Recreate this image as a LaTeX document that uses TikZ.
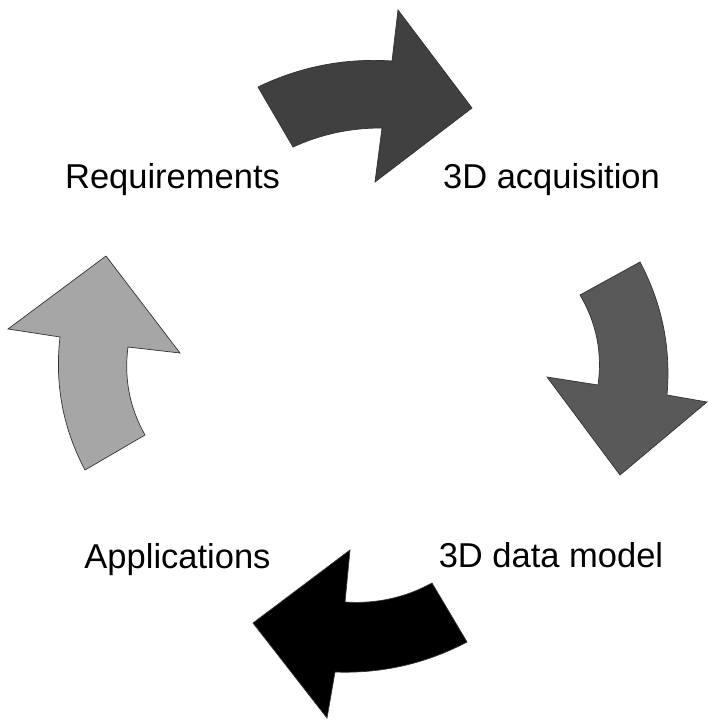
\documentclass[tikz,border=0pt]{standalone}
\usepackage{fontspec}
\setmainfont{Liberation Sans}
\usepackage{tikz}
\usetikzlibrary{calc}
\usepackage{xcolor}

\definecolor{darkstep}{HTML}{404040}
\definecolor{midstep}{HTML}{595959}
\definecolor{lightstep}{HTML}{A6A6A6}

\tikzset{
	steplabel/.style={anchor=base, inner sep=0pt, font=\fontsize{34.5}{40}\selectfont},
	cyclearrow/.style={draw=black!80, line width=0.7pt, line join=miter}
}

\begin{document}
\begin{tikzpicture}[x=1pt, y=-1pt]
	\useasboundingbox (0,0) rectangle (708,720);
	\coordinate (req) at (172.5,188);
	\coordinate (acq) at (551.5,188);
	\coordinate (mod) at (551,567);
	\coordinate (app) at (177.5,568);
	\path (req) node [steplabel] (reqtext) {Requirements};
	\path (acq) node [steplabel] (acqtext) {3D acquisition};
	\path (mod) node [steplabel] (modtext) {3D data model};
	\path (app) node [steplabel] (apptext) {Applications};
	% requirements -> acquisition
	\filldraw [cyclearrow, fill=darkstep] (258,87) .. controls (300.4,66.5) and (345.1,57.9) .. (392,61) -- (398,10) -- (472,108) -- (375,182) -- (382,128) .. controls (350.9,127.8) and (321.3,134.1) .. (293,147) -- cycle;
	% acquisition -> data model
	\filldraw [cyclearrow, fill=midstep] (580,295) -- (640,262) .. controls (662.1,303.7) and (671.1,348) .. (667,395) -- (707,402) -- (620,475) -- (547,377) -- (598,385) .. controls (602.5,352.9) and (596.5,322.9) .. (580,295) -- cycle;
	% data model -> applications
	\filldraw [cyclearrow, fill=black] (432,583) .. controls (404.9,597.8) and (375.9,604.1) .. (345,602) -- (350,550) -- (253,623) -- (327,718) -- (335,672) .. controls (381.7,673.7) and (425.7,663.7) .. (467,642) -- cycle;
	% applications -> requirements
	\filldraw [cyclearrow, fill=lightstep] (85,470) .. controls (62.9,428.3) and (54.6,383.9) .. (60,337) -- (8,329) -- (106,256) -- (180,353) -- (128,347) .. controls (123.9,378.3) and (129.5,407.6) .. (145,435) -- cycle;
\end{tikzpicture}
\end{document}
